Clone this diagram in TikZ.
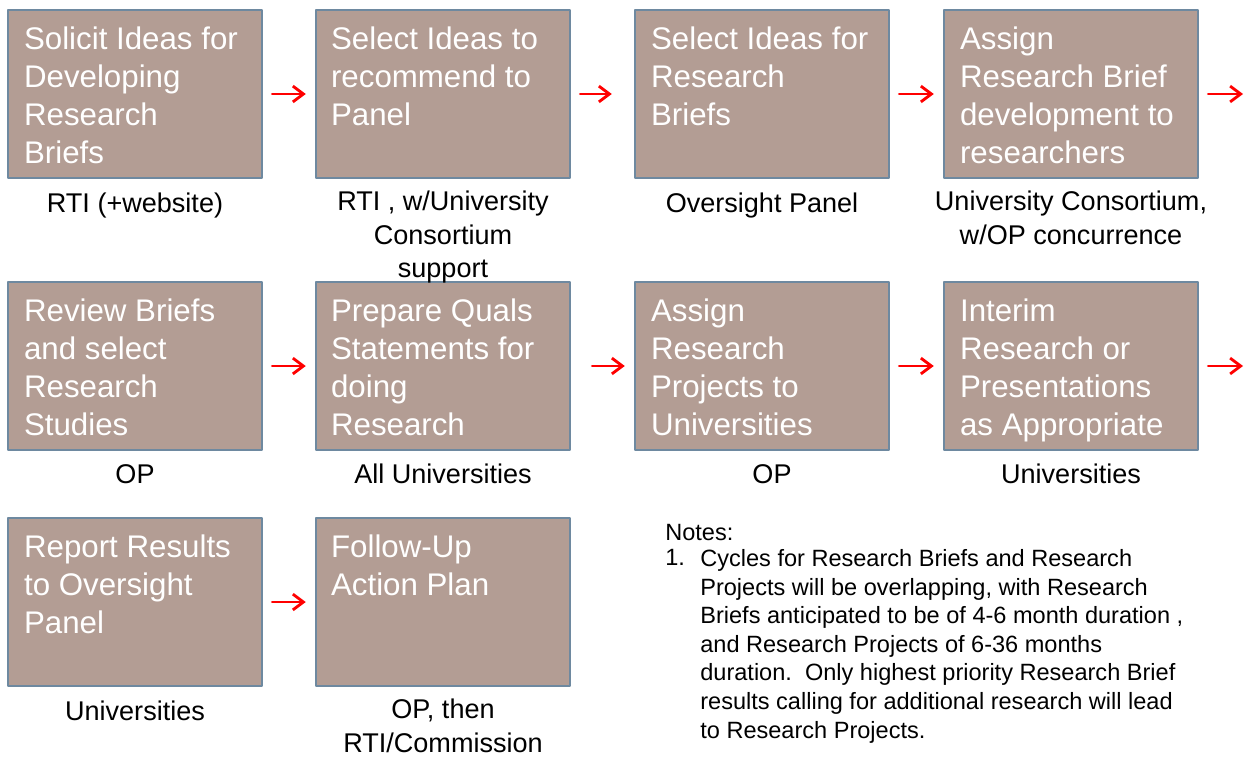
\documentclass[tikz,border=0pt]{standalone}
\usepackage{fontspec}
\setmainfont{Liberation Sans}
\usetikzlibrary{arrows.meta}
\definecolor{taupe}{RGB}{179,157,148}
\definecolor{slate}{RGB}{110,137,160}
\begin{document}
\begin{tikzpicture}[x=0.02cm,y=-0.02cm,line join=round,line cap=round,>={Straight Barb[length=6pt,width=9pt]}]
	\tikzset{stage/.style={draw=slate,line width=1.5pt,fill=taupe,minimum width=5.08cm,minimum height=3.36cm,inner sep=0pt}}
	\tikzset{stagetext/.style={anchor=north west,align=left,text=white,inner sep=0pt,font=\fontsize{17.8}{21.6}\selectfont,execute at begin node=\strut}}
	\tikzset{who/.style={anchor=north,align=center,inner sep=0pt,font=\fontsize{15.4}{19}\selectfont,execute at begin node=\strut}}
	\tikzset{note/.style={anchor=north west,align=left,inner sep=0pt,font=\fontsize{13.4}{16.3}\selectfont,execute at begin node=\strut}}
	\tikzset{flow/.style={->,draw=red,line width=1.6pt,shorten <=5.1pt,shorten >=5.1pt}}
	\useasboundingbox (0,0) rectangle (1247,757);
	% first row
	\node[stage] (b1) at (135,94) {};
	\node[stage] (b2) at (443,94) {};
	\node[stage] (b3) at (762,94) {};
	\node[stage] (b4) at (1071,94) {};
	% second row
	\node[stage] (b5) at (135,366) {};
	\node[stage] (b6) at (443,366) {};
	\node[stage] (b7) at (762,366) {};
	\node[stage] (b8) at (1071,366) {};
	% third row
	\node[stage] (b9) at (135,602) {};
	\node[stage] (b10) at (443,602) {};
	% step texts
	\node[stagetext] (t1) at ([xshift=0.34cm,yshift=-0.35cm]b1.north west) {Solicit Ideas for\\Developing\\Research\\Briefs};
	\node[stagetext] (t2) at ([xshift=0.32cm,yshift=-0.35cm]b2.north west) {Select Ideas to\\recommend to\\Panel};
	\node[stagetext] (t3) at ([xshift=0.34cm,yshift=-0.35cm]b3.north west) {Select Ideas for\\Research\\Briefs};
	\node[stagetext] (t4) at ([xshift=0.34cm,yshift=-0.35cm]b4.north west) {Assign\\Research Brief\\development to\\researchers};
	\node[stagetext] (t5) at ([xshift=0.34cm,yshift=-0.35cm]b5.north west) {Review Briefs\\and select\\Research\\Studies};
	\node[stagetext] (t6) at ([xshift=0.32cm,yshift=-0.35cm]b6.north west) {Prepare Quals\\Statements for\\doing\\Research};
	\node[stagetext] (t7) at ([xshift=0.34cm,yshift=-0.35cm]b7.north west) {Assign\\Research\\Projects to\\Universities};
	\node[stagetext] (t8) at ([xshift=0.34cm,yshift=-0.35cm]b8.north west) {Interim\\Research or\\Presentations\\as Appropriate};
	\node[stagetext] (t9) at ([xshift=0.34cm,yshift=-0.35cm]b9.north west) {Report Results\\to Oversight\\Panel};
	\node[stagetext] (t10) at ([xshift=0.32cm,yshift=-0.35cm]b10.north west) {Follow-Up\\Action Plan};
	% who does it
	\node[who] (w1) at ([yshift=-0.19cm]b1.south) {RTI (+website)};
	\node[who] (w2) at ([yshift=-0.23cm]b2.south) {RTI , w/University\\Consortium\\support};
	\node[who] (w3) at ([yshift=-0.19cm]b3.south) {Oversight Panel};
	\node[who] (w4) at ([yshift=-0.23cm]b4.south) {University Consortium,\\w/OP concurrence};
	\node[who] (w5) at ([yshift=-0.17cm]b5.south) {OP};
	\node[who] (w6) at ([yshift=-0.17cm]b6.south) {All Universities};
	\node[who] (w7) at ([xshift=0.2cm,yshift=-0.17cm]b7.south) {OP};
	\node[who] (w8) at ([yshift=-0.17cm]b8.south) {Universities};
	\node[who] (w9) at ([yshift=-0.19cm]b9.south) {Universities};
	\node[who] (w10) at ([yshift=-0.23cm]b10.south) {OP, then\\RTI/Commission};
	% notes
	\node[note] (notes) at (665,520) {Notes:};
	\node[note] (n1) at (665,545) {1.};
	\node[note] (n1t) at (700,549) {Cycles for Research Briefs and Research\\Projects will be overlapping, with Research\\Briefs anticipated to be of 4-6 month duration ,\\and Research Projects of 6-36 months\\duration.\ \ Only highest priority Research Brief\\results calling for additional research will lead\\to Research Projects.};
	% arrows
	\coordinate (o1) at (1243,94);
	\coordinate (o2) at (1243,366);
	\draw[flow] (b1) -- (b2);
	\draw[flow,shorten <=5.1pt,shorten >=12.5pt] (b2) -- (b3);
	\draw[flow] (b3) -- (b4);
	\draw[flow,shorten >=0pt] (b4) -- (o1);
	\draw[flow] (b5) -- (b6);
	\draw[flow,shorten <=11.9pt,shorten >=5.1pt] (b6) -- (b7);
	\draw[flow] (b7) -- (b8);
	\draw[flow,shorten >=0pt] (b8) -- (o2);
	\draw[flow] (b9) -- (b10);
\end{tikzpicture}
\end{document}
